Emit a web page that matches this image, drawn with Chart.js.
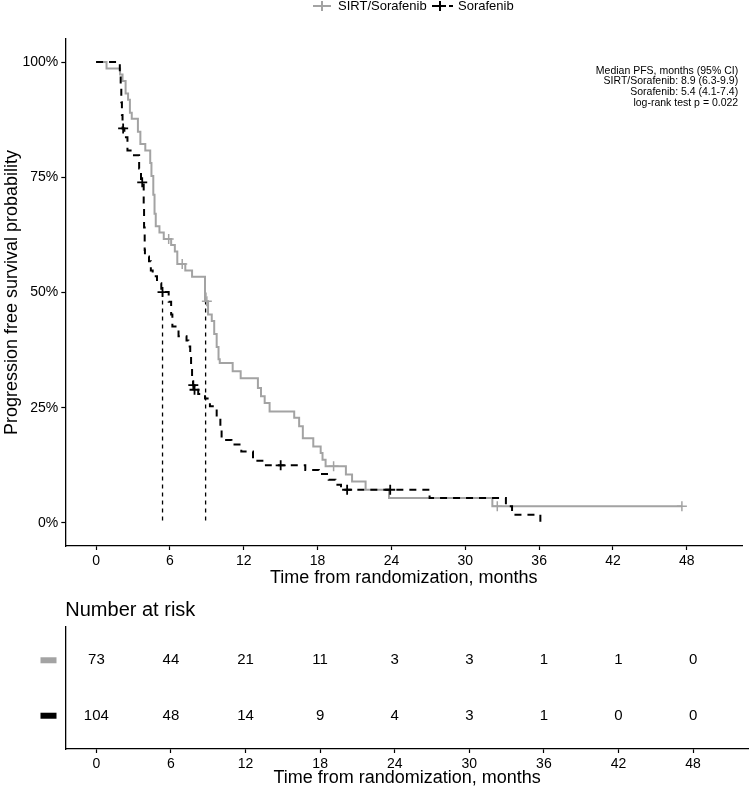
<!DOCTYPE html>
<html>
<head>
<meta charset="utf-8">
<script src="https://cdn.jsdelivr.net/npm/chart.js@4.4.1/dist/chart.umd.min.js"></script>
<style>
html, body { margin: 0; padding: 0; background: #fff; }
#wrap { position: relative; width: 749px; height: 790px; }
#km { position: absolute; left: 0; top: 0; }
#risk { position: absolute; left: 0; top: 590px; }
</style>
</head>
<body>
<div id="wrap">
<canvas id="km" width="749" height="590"></canvas>
<canvas id="risk" width="749" height="200"></canvas>
</div>
<script>
// groups
var groups = ['SIRT/Sorafenib', 'Sorafenib'];
var grayCol = '#a3a3a3';

// Kaplan-Meier steps (months, % progression free)
var sirtTime = [0, 0.85, 1.95, 2.15, 2.4, 2.6, 2.75, 2.9, 3.4, 3.6, 4.0, 4.4, 4.5, 4.65, 4.75, 4.85, 5.15, 5.5,
  6.1, 6.4, 6.6, 7.25, 7.8, 8.85, 9.1, 9.4, 9.6, 9.8, 9.95, 10.05, 11.1, 11.75, 13.15, 13.4, 13.7, 14.1,
  16.1, 16.5, 16.8, 17.65, 18.25, 18.4, 18.65, 20.3, 20.8, 21.9, 23.8, 32.2, 47.6];
var sirtSurv = [100, 98.6, 97.3, 95.9, 93.2, 91.8, 89.0, 87.7, 84.9, 82.2, 80.8, 78.1, 75.3, 71.2, 67.1, 64.4, 63.0, 61.6,
  60.3, 58.9, 56.2, 54.8, 53.4, 48.1, 45.2, 43.8, 41.0, 38.2, 35.5, 34.7, 32.9, 31.4, 29.3, 27.5, 26.0, 24.2,
  22.8, 21.0, 18.4, 16.6, 15.2, 13.7, 12.3, 10.5, 9.0, 7.2, 5.4, 3.6, 3.6];
var sirtCensorTime = [5.9, 7.0, 9.0, 19.3, 32.6, 47.6];
var sirtCensorSurv = [61.6, 56.2, 48.1, 12.3, 3.6, 3.6];

var soraTime = [0, 1.93, 2.0, 2.05, 2.1, 2.15, 2.3, 2.55, 2.95, 3.5, 3.65, 3.87, 3.9, 3.95, 3.97, 4.3, 4.45, 4.6, 4.95, 5.3,
  5.9, 6.1, 6.2, 6.7, 7.35, 7.5, 7.65, 7.72, 7.8, 7.88, 8.0, 8.3, 8.85, 9.25, 9.8, 10.1, 10.2, 11.0, 11.8, 12.75,
  13.8, 17.0, 18.1, 18.9, 19.45, 19.9, 27.1, 33.3, 33.8, 36.1];
var soraSurv = [100, 97.1, 94.2, 91.3, 88.5, 85.6, 83.7, 80.8, 79.8, 76.9, 73.9, 69.0, 64.1, 59.2, 57.8, 56.8, 54.8, 53.5, 52.0, 50.1,
  48.0, 45.2, 42.6, 40.5, 39.6, 38.3, 36.9, 34.0, 31.8, 29.9, 28.9, 28.0, 27.0, 25.3, 23.1, 20.6, 18.0, 17.0, 15.5, 13.5,
  12.5, 11.5, 10.6, 9.4, 8.3, 7.2, 5.4, 3.6, 1.8, 0];
var soraCensorTime = [2.2, 3.75, 5.4, 7.9, 8.0, 15.0, 20.4, 23.9];
var soraCensorSurv = [85.6, 73.9, 50.1, 29.9, 28.9, 12.5, 7.2, 7.2];

// median PFS (months)
var medianTime = [8.9, 5.4];

var xTicks = [0, 6, 12, 18, 24, 30, 36, 42, 48];
var yTicks = [0, 25, 50, 75, 100];

var annotationLines = ['Median PFS, months (95% CI)', 'SIRT/Sorafenib: 8.9 (6.3-9.9)', 'Sorafenib: 5.4 (4.1-7.4)', 'log-rank test p = 0.022'];

// number at risk
var riskTime = [0, 6, 12, 18, 24, 30, 36, 42, 48];
var riskSirt = [73, 44, 21, 11, 3, 3, 1, 1, 0];
var riskSora = [104, 48, 14, 9, 4, 3, 1, 0, 0];

var FONT = "'Liberation Sans', Arial, Helvetica, sans-serif";
Chart.defaults.font.family = FONT;
Chart.defaults.color = '#000';

function pts(xs, ys) {
  return xs.map(function (x, i) { return { x: x, y: ys[i] }; });
}

var medianSets = medianTime.map(function (t) {
  return {
    label: 'median', data: [{ x: t, y: 50 }, { x: t, y: 0 }],
    borderColor: '#000', borderWidth: 1.3, borderDash: [4, 4], pointRadius: 0, fill: false, order: 5
  };
});

function xAxis() {
  return {
    type: 'linear', min: -2.5, max: 52.5,
    afterBuildTicks: function (s) { s.ticks = xTicks.map(function (v) { return { value: v }; }); },
    grid: { drawOnChartArea: false, color: '#000', tickLength: 4, tickWidth: 1.2 },
    border: { color: '#000', width: 1.3 },
    ticks: { color: '#000', font: { size: 14 }, maxRotation: 0, autoSkip: false, padding: 3 },
    title: { display: true, text: 'Time from randomization, months', color: '#000', font: { size: 18 }, padding: { top: 0, bottom: 1 } }
  };
}

var legendPlugin = {
  id: 'kmLegend',
  afterDraw: function (chart) {
    var ctx = chart.ctx;
    ctx.save();
    ctx.font = '13px ' + FONT;
    ctx.textBaseline = 'middle';
    ctx.fillStyle = '#000';
    var y = 6;
    // SIRT/Sorafenib
    ctx.strokeStyle = grayCol; ctx.lineWidth = 2;
    ctx.beginPath(); ctx.moveTo(313, y); ctx.lineTo(331, y); ctx.stroke();
    ctx.beginPath(); ctx.moveTo(322, y - 5); ctx.lineTo(322, y + 5); ctx.stroke();
    ctx.fillText(groups[0], 338, y);
    // Sorafenib
    ctx.strokeStyle = '#000';
    ctx.beginPath(); ctx.moveTo(432, y); ctx.lineTo(446, y); ctx.stroke();
    ctx.beginPath(); ctx.moveTo(449, y); ctx.lineTo(453, y); ctx.stroke();
    ctx.beginPath(); ctx.moveTo(440, y - 5); ctx.lineTo(440, y + 5); ctx.stroke();
    ctx.fillText(groups[1], 458, y);
    // annotation
    ctx.font = '10.5px ' + FONT;
    ctx.textAlign = 'right';
    var a = chart.chartArea;
    annotationLines.forEach(function (txt, i) {
      ctx.fillText(txt, a.right - 4, 71 + i * 10.6);
    });
    ctx.restore();
  }
};

new Chart(document.getElementById('km'), {
  type: 'line',
  data: {
    datasets: [
      { label: groups[0], data: pts(sirtTime, sirtSurv), borderColor: grayCol, borderWidth: 2, stepped: true, pointRadius: 0, fill: false, order: 2 },
      { label: groups[1], data: pts(soraTime, soraSurv), borderColor: '#000', borderWidth: 2, borderDash: [7, 6], stepped: true, pointRadius: 0, fill: false, order: 1 },
      { label: groups[0] + ' censored', data: pts(sirtCensorTime, sirtCensorSurv), showLine: false, pointStyle: 'cross', pointRadius: 5, pointBorderColor: grayCol, pointBorderWidth: 1.5, order: 2 },
      { label: groups[1] + ' censored', data: pts(soraCensorTime, soraCensorSurv), showLine: false, pointStyle: 'cross', pointRadius: 5, pointBorderColor: '#000', pointBorderWidth: 1.8, order: 1 }
    ].concat(medianSets)
  },
  options: {
    responsive: false,
    animation: false,
    layout: { padding: { top: 39, left: 0, right: 0, bottom: 0 } },
    plugins: { legend: { display: false }, tooltip: { enabled: false } },
    scales: {
      x: Object.assign(xAxis(), { afterFit: function (s) { s.height = 44; } }),
      y: {
        type: 'linear', min: -5, max: 105,
        afterBuildTicks: function (s) { s.ticks = yTicks.map(function (v) { return { value: v }; }); },
        afterFit: function (s) { s.width = 65.3; },
        grid: { drawOnChartArea: false, color: '#000', tickLength: 4, tickWidth: 1.2 },
        border: { color: '#000', width: 1.3 },
        ticks: { color: '#000', font: { size: 14 }, padding: 3, callback: function (v) { return v + '%'; } },
        title: { display: true, text: 'Progression free survival probability', color: '#000', font: { size: 18 }, padding: { top: 1, bottom: 0 } }
      }
    }
  },
  plugins: [legendPlugin]
});

var riskPlugin = {
  id: 'riskText',
  afterDatasetsDraw: function (chart) {
    var ctx = chart.ctx;
    ctx.save();
    ctx.fillStyle = '#000';
    ctx.font = '20px ' + FONT;
    ctx.textBaseline = 'middle';
    ctx.fillText('Number at risk', chart.chartArea.left, 20);
    ctx.font = '15px ' + FONT;
    ctx.textAlign = 'center';
    chart.data.datasets.forEach(function (ds, di) {
      var meta = chart.getDatasetMeta(di);
      meta.data.forEach(function (el, i) {
        ctx.fillStyle = '#000';
        ctx.fillText(String(ds.data[i].n), el.x, el.y);
      });
      ctx.fillStyle = ds.rowColor;
      ctx.fillRect(40.5, meta.data[0].y - 3, 16, 6);
    });
    ctx.restore();
  }
};

function riskData(counts, row) {
  return riskTime.map(function (t, i) { return { x: t, y: row, n: counts[i] }; });
}

new Chart(document.getElementById('risk'), {
  type: 'scatter',
  data: {
    datasets: [
      { label: groups[0], data: riskData(riskSirt, 2), pointRadius: 0, rowColor: grayCol },
      { label: groups[1], data: riskData(riskSora, 1), pointRadius: 0, rowColor: '#000' }
    ]
  },
  options: {
    responsive: false,
    animation: false,
    layout: { padding: { top: 37, left: 0, right: 0, bottom: 0 } },
    plugins: { legend: { display: false }, tooltip: { enabled: false } },
    scales: {
      x: Object.assign(xAxis(), { afterFit: function (s) { s.height = 41; } }),
      y: {
        type: 'linear', min: 0.4, max: 2.6,
        afterFit: function (s) { s.width = 65.3; },
        grid: { display: false },
        border: { color: '#000', width: 1.3 },
        ticks: { display: false }
      }
    }
  },
  plugins: [riskPlugin]
});
</script>
</body>
</html>
